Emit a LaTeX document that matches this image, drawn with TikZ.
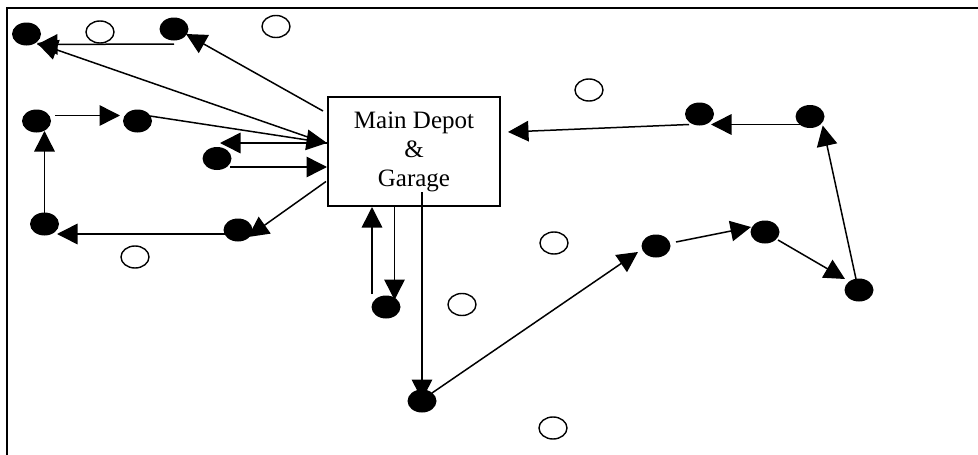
\documentclass[tikz,border=0pt]{standalone}
\usepackage{fontspec}
\setmainfont{Liberation Serif}
\usetikzlibrary{arrows.meta,shapes.geometric}
\tikzset{
  x=1pt,y=-1pt,
  stop/.style={ellipse,draw=none,fill=black,minimum width=29pt,minimum height=23pt,inner sep=0pt},
  empty/.style={ellipse,draw=black,line width=1.4pt,fill=white,minimum width=28pt,minimum height=22pt,inner sep=0pt},
  depot/.style={rectangle,draw=black,line width=1.4pt,fill=white,minimum width=172pt,minimum height=109pt,inner sep=0pt,align=center,font=\fontsize{25}{29}\selectfont},
  route/.style={draw=black,line width=1.5pt,-{Triangle[length=20.5pt,width=20.5pt]}}
}
\begin{document}
\begin{tikzpicture}
\useasboundingbox (0,0) rectangle (978,455);
\fill[white] (0,0) rectangle (978,455);
\draw[draw=black,line width=2.3pt] (6.8,455) -- (6.8,8) -- (978,8);
% open stops
\node[empty] (o1) at (100,32) {};
\node[empty] (o2) at (276,26.5) {};
\node[empty] (o3) at (589,90) {};
\node[empty] (o4) at (135,257) {};
\node[empty] (o5) at (554,243) {};
\node[empty] (o6) at (462,304.5) {};
\node[empty] (o7) at (553,428) {};
% depot
\node[depot] (box) at (414,151.5) {Main Depot\\\&\\Garage};
% stops
\node[stop] (a) at (26.5,34) {};
\node[stop] (b) at (174,29) {};
\node[stop] (c) at (36.5,121) {};
\node[stop] (d) at (137.5,121) {};
\node[stop] (e) at (217,158.5) {};
\node[stop] (f) at (44.5,224) {};
\node[stop] (g) at (238,230) {};
\node[stop] (h) at (386,307) {};
\node[stop] (i) at (422,401) {};
\node[stop] (j) at (656,246) {};
\node[stop] (k) at (765,232) {};
\node[stop] (l) at (859,290) {};
\node[stop] (m) at (810,116.5) {};
\node[stop] (n) at (699.5,114) {};
% free connector ends
\foreach \n/\x/\y in {
  ba/174/44, at/37/44.5,
  bs/323/111, bt/186/34,
  as/325/143, at2/37/43,
  ds/150/116, dt/327/143,
  es/327/143, et/220/143,
  fs/230/167, ft/327/167,
  gs/326/181.5, gt/248/237,
  hs/225/234, ht/57/234,
  is/44.5/213, it/44.5/131,
  js/55/115.5, jt/120/115.5,
  ks/372/294, kt/372/207,
  ls/394.5/206, lt/394.5/300,
  ms/422/192, mt/422/400,
  ns/432/393, nt/638/252,
  ps/676/242, pt/751/227,
  qs/778/240, qt/845/279,
  rs/856/279, rt/822.7/125.5,
  ss/805/124.5, st/711/124.5,
  us/689/124.5, ut/508/132}
  {\coordinate (\n) at (\x,\y);}
\draw[route] (ba) -- (at);
\draw[route] (bs) -- (bt);
\draw[route] (as) -- (at2);
\draw[route] (ds) -- (dt);
\draw[route] (es) -- (et);
\draw[route] (fs) -- (ft);
\draw[route] (gs) -- (gt);
\draw[route] (hs) -- (ht);
\draw[route] (is) -- (it);
\draw[route] (js) -- (jt);
\draw[route] (ks) -- (kt);
\draw[route] (ls) -- (lt);
\draw[route] (ms) -- (mt);
\draw[route] (ns) -- (nt);
\draw[route] (ps) -- (pt);
\draw[route] (qs) -- (qt);
\draw[route] (rs) -- (rt);
\draw[route] (ss) -- (st);
\draw[route] (us) -- (ut);
\end{tikzpicture}
\end{document}
